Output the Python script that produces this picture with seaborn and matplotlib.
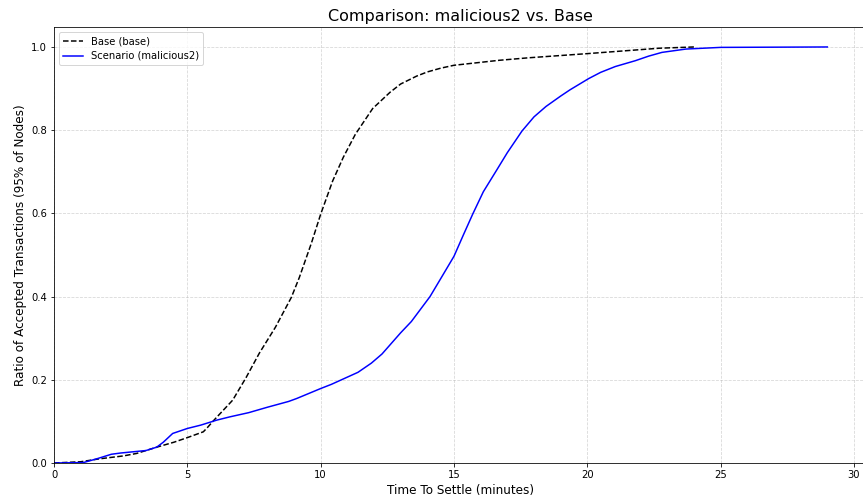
import matplotlib
matplotlib.use("Agg")
import matplotlib.pyplot as plt
import seaborn as sns

# Base run (dashed black)
base_time = [0, 1.0, 1.7, 2.6, 3.1, 3.85, 4.5, 5.0, 5.6, 5.75, 6.0, 6.7, 7.2, 7.7,
             8.3, 8.9, 9.2, 9.65, 10.0, 10.45, 10.85, 11.3, 11.95, 12.6, 13.0, 13.6,
             14.0, 14.5, 15.0, 16.7, 17.8, 20.0, 22.7, 24.0]
base_ratio = [0, 0.003, 0.010, 0.017, 0.023, 0.038, 0.050, 0.061, 0.075, 0.085,
              0.103, 0.151, 0.205, 0.264, 0.326, 0.398, 0.446, 0.528, 0.598, 0.678,
              0.735, 0.790, 0.852, 0.891, 0.911, 0.930, 0.940, 0.949, 0.956, 0.968,
              0.974, 0.984, 0.997, 1.0]

# Scenario run (solid blue)
scen_time = [0, 1.1, 1.6, 2.15, 2.5, 3.45, 3.85, 4.1, 4.45, 5.0, 5.5, 6.1, 6.6,
             7.3, 8.0, 8.8, 9.1, 10.0, 10.4, 11.4, 11.9, 12.3, 13.0, 13.4, 14.1,
             14.5, 15.0, 15.35, 15.7, 16.1, 16.6, 17.0, 17.55, 18.0, 18.45, 19.0,
             19.35, 20.05, 20.5, 21.05, 21.8, 22.3, 22.8, 23.7, 25.0, 29.0]
scen_ratio = [0, 0.001, 0.010, 0.021, 0.024, 0.030, 0.038, 0.050, 0.071, 0.083,
              0.091, 0.103, 0.111, 0.121, 0.134, 0.148, 0.155, 0.179, 0.189, 0.218,
              0.240, 0.262, 0.313, 0.340, 0.400, 0.443, 0.497, 0.548, 0.598, 0.652,
              0.704, 0.746, 0.798, 0.832, 0.857, 0.882, 0.897, 0.924, 0.939, 0.953,
              0.967, 0.978, 0.987, 0.995, 0.999, 1.0]

fig = plt.figure(figsize=(863 / 72, 501 / 72), dpi=72)
ax = fig.add_axes([54 / 863, 38 / 501, 812 / 863, 436 / 501])

sns.lineplot(x=base_time, y=base_ratio, ax=ax, color="black", linestyle="--",
             label="Base (base)")
sns.lineplot(x=scen_time, y=scen_ratio, ax=ax, color="blue",
             label="Scenario (malicious2)")

ax.set_title("Comparison: malicious2 vs. Base", fontsize=16)
ax.set_xlabel("Time To Settle (minutes)", fontsize=12)
ax.set_ylabel("Ratio of Accepted Transactions (95% of Nodes)", fontsize=12)
ax.set_xlim(0, 30.45)
ax.set_ylim(0, 1.048)
ax.grid(True, linestyle="--", alpha=0.5)
ax.legend(loc="upper left")

fig.savefig("out.png", dpi=72)
